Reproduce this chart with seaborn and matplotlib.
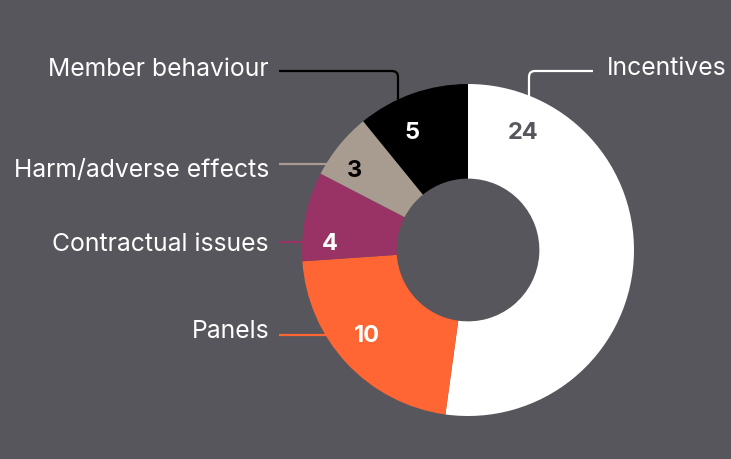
import matplotlib
matplotlib.use("Agg")
import matplotlib.pyplot as plt
import seaborn as sns
import numpy as np
from matplotlib.path import Path
from matplotlib.patches import PathPatch

categories = ["Incentives", "Panels", "Contractual issues", "Harm/adverse effects", "Member behaviour"]
values = [24, 10, 4, 3, 5]
colors = ["#FFFFFF", "#FF6633", "#993366", "#A89B8F", "#000000"]
value_colors = ["#57565C", "#FFFFFF", "#FFFFFF", "#000000", "#FFFFFF"]

BG = "#57565C"
sns.set_theme(style="white")
plt.rcParams["font.family"] = ["Inter", "DejaVu Sans"]

W, H = 731, 459
CX, CY, R = 468, 250, 166

fig = plt.figure(figsize=(W / 100, H / 100), dpi=100, facecolor=BG)
ax = fig.add_axes([0, 0, 1, 1])
ax.set_facecolor(BG)

def px(x, y):
    return ((x - CX) / R, (CY - y) / R)

wedges, _ = ax.pie(values, colors=colors, startangle=90, counterclock=False,
                   radius=1.0, wedgeprops=dict(width=0.57, linewidth=0))
ax.set_xlim(-CX / R, (W - CX) / R)
ax.set_ylim(-(H - CY) / R, CY / R)
ax.set_aspect("auto")
ax.axis("off")

# value label positions (pixel coords, baseline) in reference layout
value_pos = [(523, 139), (367, 342), (330, 250), (354, 177), (412, 139)]
for v, c, (x, y) in zip(values, value_colors, value_pos):
    ax.text(*px(x, y), str(v), ha="center", va="baseline", color=c,
            fontsize=17, fontweight="bold")

def leader(points, color, rad=6):
    pts = [px(*p) for p in points]
    r = rad / R
    if len(pts) == 3:
        (x0, y0), (x1, y1), (x2, y2) = pts
        d0 = np.array([x1 - x0, y1 - y0]); d0 /= np.linalg.norm(d0)
        d1 = np.array([x2 - x1, y2 - y1]); d1 /= np.linalg.norm(d1)
        a = (x1 - d0[0] * r, y1 - d0[1] * r)
        b = (x1 + d1[0] * r, y1 + d1[1] * r)
        verts = [(x0, y0), a, (x1, y1), b, (x2, y2)]
        codes = [Path.MOVETO, Path.LINETO, Path.CURVE3, Path.CURVE3, Path.LINETO]
    else:
        verts = pts
        codes = [Path.MOVETO, Path.LINETO]
    ax.add_patch(PathPatch(Path(verts, codes), fill=False, edgecolor=color,
                           linewidth=1.6, capstyle="butt", joinstyle="round"))

leader([(529, 98), (529, 71), (593, 71)], "#FFFFFF")
leader([(279, 71), (398, 71), (398, 104)], "#000000")
leader([(279, 164), (330, 164)], colors[3])
leader([(279, 242), (305, 242)], colors[2])
leader([(279, 335), (327, 335)], colors[1])

label_pos = [(607, 75, "left"), (269, 338, "right"), (269, 251, "right"),
             (269, 177, "right"), (269, 76, "right")]
for cat, (x, y, ha) in zip(categories, label_pos):
    ax.text(*px(x, y), cat, ha=ha, va="baseline", color="#FFFFFF", fontsize=17.8)

fig.savefig("out.png", dpi=100, facecolor=BG)
